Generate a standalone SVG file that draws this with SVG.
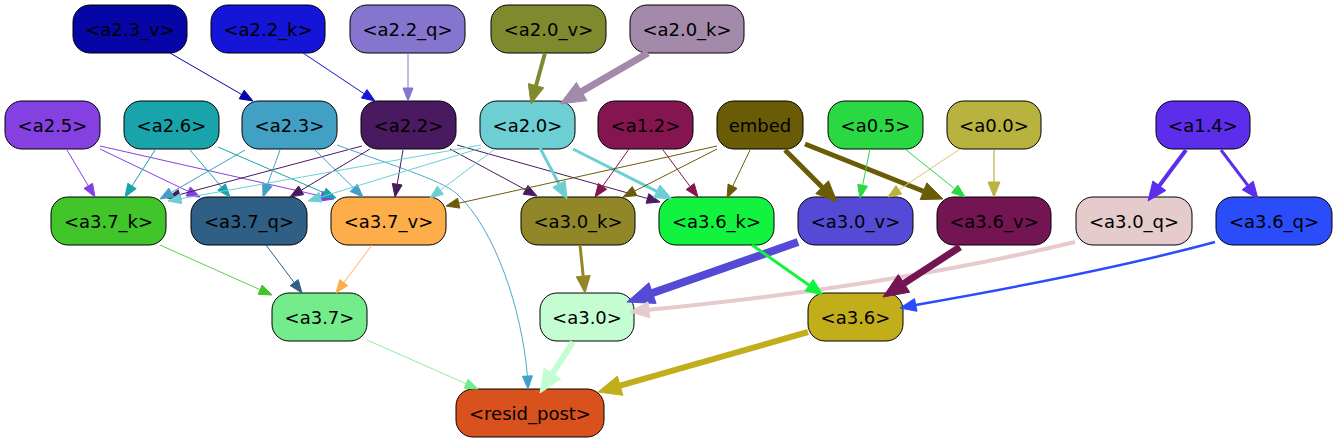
<svg xmlns="http://www.w3.org/2000/svg" width="1337" height="443" viewBox="0 0 1337 443">
<style>
.n rect{stroke:#000;stroke-width:1}
.n text{font-family:"DejaVu Sans","Liberation Sans",sans-serif;font-size:18px;text-anchor:middle;fill:#000}
#edges path{fill:none}
</style>
<rect width="1337" height="443" fill="#fff"/>
<g id="nodes">
<g id="a2.3_v" class="n"><rect x="73" y="5" width="114" height="48" rx="17" fill="#0606a6"/><text x="130" y="35.5">&lt;a2.3_v&gt;</text></g>
<g id="a2.2_k" class="n"><rect x="211" y="5" width="114" height="48" rx="17" fill="#1515d8"/><text x="268" y="35.5">&lt;a2.2_k&gt;</text></g>
<g id="a2.2_q" class="n"><rect x="350" y="5" width="115" height="48" rx="17" fill="#8575cf"/><text x="407.5" y="35.5">&lt;a2.2_q&gt;</text></g>
<g id="a2.0_v" class="n"><rect x="491" y="5" width="115" height="48" rx="17" fill="#7f8a2e"/><text x="548.5" y="35.5">&lt;a2.0_v&gt;</text></g>
<g id="a2.0_k" class="n"><rect x="630" y="5" width="114" height="48" rx="17" fill="#a38aab"/><text x="687" y="35.5">&lt;a2.0_k&gt;</text></g>

<g id="a2.5" class="n"><rect x="5" y="101" width="95" height="48" rx="17" fill="#8540e2"/><text x="52.5" y="131.5">&lt;a2.5&gt;</text></g>
<g id="a2.6" class="n"><rect x="124" y="101" width="95" height="48" rx="17" fill="#19a4ac"/><text x="171.5" y="131.5">&lt;a2.6&gt;</text></g>
<g id="a2.3" class="n"><rect x="242" y="101" width="95" height="48" rx="17" fill="#42a0c4"/><text x="289.5" y="131.5">&lt;a2.3&gt;</text></g>
<g id="a2.2" class="n"><rect x="361" y="101" width="95" height="48" rx="17" fill="#4a1a60"/><text x="408.5" y="131.5">&lt;a2.2&gt;</text></g>
<g id="a2.0" class="n"><rect x="480" y="101" width="95" height="48" rx="17" fill="#6dcfd3"/><text x="527.5" y="131.5">&lt;a2.0&gt;</text></g>
<g id="a1.2" class="n"><rect x="598" y="101" width="95" height="48" rx="17" fill="#841550"/><text x="645.5" y="131.5">&lt;a1.2&gt;</text></g>
<g id="embed" class="n"><rect x="717" y="101" width="86" height="48" rx="17" fill="#6a5c07"/><text x="760" y="131.5">embed</text></g>
<g id="a0.5" class="n"><rect x="828" y="101" width="95" height="48" rx="17" fill="#2ad844"/><text x="875.5" y="131.5">&lt;a0.5&gt;</text></g>
<g id="a0.0" class="n"><rect x="947" y="101" width="94" height="48" rx="17" fill="#b8b23e"/><text x="994" y="131.5">&lt;a0.0&gt;</text></g>
<g id="a1.4" class="n"><rect x="1156" y="101" width="94" height="48" rx="17" fill="#5c2deb"/><text x="1203" y="131.5">&lt;a1.4&gt;</text></g>

<g id="a3.7_k" class="n"><rect x="51" y="197" width="115" height="48" rx="17" fill="#41c52a"/><text x="108.5" y="227.5">&lt;a3.7_k&gt;</text></g>
<g id="a3.7_q" class="n"><rect x="191" y="197" width="116" height="48" rx="17" fill="#2f5f85"/><text x="249" y="227.5">&lt;a3.7_q&gt;</text></g>
<g id="a3.7_v" class="n"><rect x="331" y="197" width="115" height="48" rx="17" fill="#fdae4a"/><text x="388.5" y="227.5">&lt;a3.7_v&gt;</text></g>
<g id="a3.0_k" class="n"><rect x="521" y="197" width="114" height="48" rx="17" fill="#918729"/><text x="578" y="227.5">&lt;a3.0_k&gt;</text></g>
<g id="a3.6_k" class="n"><rect x="659" y="197" width="115" height="48" rx="17" fill="#12f340"/><text x="716.5" y="227.5">&lt;a3.6_k&gt;</text></g>
<g id="a3.0_v" class="n"><rect x="798" y="197" width="115" height="48" rx="17" fill="#554ad6"/><text x="855.5" y="227.5">&lt;a3.0_v&gt;</text></g>
<g id="a3.6_v" class="n"><rect x="937" y="197" width="114" height="48" rx="17" fill="#731453"/><text x="994" y="227.5">&lt;a3.6_v&gt;</text></g>
<g id="a3.0_q" class="n"><rect x="1076" y="197" width="116" height="48" rx="17" fill="#e5cbcc"/><text x="1134" y="227.5">&lt;a3.0_q&gt;</text></g>
<g id="a3.6_q" class="n"><rect x="1216" y="197" width="116" height="48" rx="17" fill="#2a4cf9"/><text x="1274" y="227.5">&lt;a3.6_q&gt;</text></g>

<g id="a3.7" class="n"><rect x="272" y="293" width="95" height="48" rx="17" fill="#75ec8c"/><text x="319.5" y="323.5">&lt;a3.7&gt;</text></g>
<g id="a3.0" class="n"><rect x="540" y="293" width="94" height="48" rx="17" fill="#c5fdd2"/><text x="587" y="323.5">&lt;a3.0&gt;</text></g>
<g id="a3.6" class="n"><rect x="808" y="293" width="95" height="48" rx="17" fill="#c2ae1b"/><text x="855.5" y="323.5">&lt;a3.6&gt;</text></g>

<g id="resid_post" class="n"><rect x="456" y="389" width="148" height="48" rx="17" fill="#d9521d"/><text x="530" y="419.5">&lt;resid_post&gt;</text></g>
</g>

<g id="edges">
<path d="M170,53 L241.7,94.5" stroke="#0606a6"/><polygon points="253,101 239.2,98.8 244.2,90.2" fill="#0606a6" stroke="#0606a6"/>
<path d="M303,53 L364.2,93.8" stroke="#1515d8"/><polygon points="375,101 361.4,98 367,89.6" fill="#1515d8" stroke="#1515d8"/>
<path d="M408,53 L408,88" stroke="#8575cf"/><polygon points="408,101 403,88 413,88" fill="#8575cf" stroke="#8575cf"/>
<path d="M545,53 L536,85.7" stroke="#7f8a2e" stroke-width="4"/><polygon points="531,104 528.3,83.6 543.7,87.8" fill="#7f8a2e" stroke="#7f8a2e"/>
<path d="M648,53 L581.6,91.5" stroke="#a38aab" stroke-width="7"/><polygon points="560,104 576.4,82.4 586.9,100.6" fill="#a38aab" stroke="#a38aab"/>

<path d="M67,150 L88.3,185.8" stroke="#8540e2"/><polygon points="95,197 84,188.4 92.6,183.3" fill="#8540e2" stroke="#8540e2"/>
<path d="M100,149 L188.3,191.4" stroke="#8540e2"/><polygon points="200,197 186.1,195.9 190.4,186.9" fill="#8540e2" stroke="#8540e2"/>
<path d="M100,146 L321.3,196.1" stroke="#8540e2"/><polygon points="334,199 320.2,201 322.4,191.3" fill="#8540e2" stroke="#8540e2"/>

<path d="M155,150 L132,186" stroke="#19a4ac"/><polygon points="125,197 127.8,183.3 136.2,188.7" fill="#19a4ac" stroke="#19a4ac"/>
<path d="M190,150 L221.6,187.1" stroke="#19a4ac"/><polygon points="230,197 217.8,190.3 225.4,183.9" fill="#19a4ac" stroke="#19a4ac"/>
<path d="M218,147 L324.1,192.8" stroke="#19a4ac"/><polygon points="336,198 322.1,197.4 326.1,188.2" fill="#19a4ac" stroke="#19a4ac"/>

<path d="M362,146 L179.6,194.6" stroke="#4a1a60"/><polygon points="167,198 178.3,189.8 180.9,199.5" fill="#4a1a60" stroke="#4a1a60"/>
<path d="M245,150 L171.3,192.5" stroke="#42a0c4"/><polygon points="160,199 168.8,188.2 173.8,196.8" fill="#42a0c4" stroke="#42a0c4"/>
<path d="M280,150 L267.4,184.8" stroke="#42a0c4"/><polygon points="263,197 262.7,183.1 272.1,186.5" fill="#42a0c4" stroke="#42a0c4"/>
<path d="M315,150 L353.7,187.9" stroke="#42a0c4"/><polygon points="363,197 350.2,191.5 357.2,184.3" fill="#42a0c4" stroke="#42a0c4"/>
<path d="M337,145 C400,168 440,180 456,193 C495,228 522,310 527.4,376" stroke="#4ea6cc"/><polygon points="528,389 522.4,376.3 532.4,375.8" fill="#42a0c4" stroke="#42a0c4"/>

<path d="M370,149 L301.1,190.3" stroke="#4a1a60"/><polygon points="290,197 298.6,186 303.7,194.6" fill="#4a1a60" stroke="#4a1a60"/>
<path d="M403,150 L397.2,184.2" stroke="#4a1a60"/><polygon points="395,197 392.3,183.4 402.1,185" fill="#4a1a60" stroke="#4a1a60"/>
<path d="M450,149 L525.6,189.8" stroke="#4a1a60"/><polygon points="537,196 523.2,194.2 528,185.4" fill="#4a1a60" stroke="#4a1a60"/>
<path d="M457,145 L647.5,198.5" stroke="#4a1a60"/><polygon points="660,202 646.1,203.3 648.8,193.7" fill="#4a1a60" stroke="#4a1a60"/>

<path d="M481,145 L180.8,198.7" stroke="#6dcfd3"/><polygon points="168,201 179.9,193.8 181.7,203.6" fill="#6dcfd3" stroke="#6dcfd3"/>
<path d="M481,148 L320.4,197.2" stroke="#6dcfd3"/><polygon points="308,201 319,192.4 321.9,202" fill="#6dcfd3" stroke="#6dcfd3"/>
<path d="M495,149 L440.4,190.2" stroke="#6dcfd3"/><polygon points="430,198 437.4,186.2 443.4,194.2" fill="#6dcfd3" stroke="#6dcfd3"/>
<path d="M540,148 L559,184" stroke="#6dcfd3" stroke-width="3"/><polygon points="567,199 552.8,187.3 565.2,180.7" fill="#6dcfd3" stroke="#6dcfd3"/>
<path d="M573,149 L656.8,191.3" stroke="#6dcfd3" stroke-width="3"/><polygon points="672,199 653.7,197.6 660,185.1" fill="#6dcfd3" stroke="#6dcfd3"/>

<path d="M629,149 L602.5,186.4" stroke="#841550"/><polygon points="595,197 598.4,183.5 606.6,189.3" fill="#841550" stroke="#841550"/>
<path d="M663,150 L690.2,186.6" stroke="#841550"/><polygon points="698,197 686.2,189.6 694.2,183.6" fill="#841550" stroke="#841550"/>

<path d="M717,146 L458.7,203.2" stroke="#6a5c07"/><polygon points="446,206 457.6,198.3 459.8,208.1" fill="#6a5c07" stroke="#6a5c07"/>
<path d="M717,149 L634.6,191.1" stroke="#6a5c07"/><polygon points="623,197 632.3,186.6 636.9,195.6" fill="#6a5c07" stroke="#6a5c07"/>
<path d="M750,150 L732.6,186.3" stroke="#6a5c07"/><polygon points="727,198 728.1,184.1 737.1,188.4" fill="#6a5c07" stroke="#6a5c07"/>
<path d="M785,150 L822.2,187.2" stroke="#6a5c07" stroke-width="5"/><polygon points="837,202 815.8,193.5 828.5,180.8" fill="#6a5c07" stroke="#6a5c07"/>
<path d="M805,144 L923.5,191.2" stroke="#6a5c07" stroke-width="5"/><polygon points="943,199 920.2,199.6 926.8,182.9" fill="#6a5c07" stroke="#6a5c07"/>

<path d="M870,149 L862.6,185.3" stroke="#2ad844"/><polygon points="860,198 857.7,184.3 867.5,186.3" fill="#2ad844" stroke="#2ad844"/>
<path d="M905,149 L954.8,188.9" stroke="#2ad844"/><polygon points="965,197 951.7,192.8 957.9,185" fill="#2ad844" stroke="#2ad844"/>
<path d="M960,149 L898.8,189.8" stroke="#cfc87a"/><polygon points="888,197 896,185.6 901.6,194" fill="#b8b23e" stroke="#b8b23e"/>
<path d="M994,150 L994,182" stroke="#d6d08e" stroke-width="2"/><polygon points="994,197 988,182 1000,182" fill="#bab33f" stroke="#bab33f"/>

<path d="M1186,150 L1159.3,185.8" stroke="#5c2deb" stroke-width="4"/><polygon points="1148,201 1152.9,181 1165.8,190.5" fill="#5c2deb" stroke="#5c2deb"/>
<path d="M1221,150 L1247.8,185.4" stroke="#5c2deb" stroke-width="3"/><polygon points="1258,199 1242.2,189.7 1253.3,181.2" fill="#5c2deb" stroke="#5c2deb"/>

<path d="M160,245 L260.1,289.7" stroke="#5ccc48"/><polygon points="272,295 258.1,294.3 262.2,285.1" fill="#41c52a" stroke="#41c52a"/>
<path d="M266,245 L294.2,282.6" stroke="#2f5f85"/><polygon points="302,293 290.2,285.6 298.2,279.6" fill="#2f5f85" stroke="#2f5f85"/>
<path d="M372,245 L343.8,282.6" stroke="#fdae4a"/><polygon points="336,293 339.8,279.6 347.8,285.6" fill="#fdae4a" stroke="#fdae4a"/>
<path d="M367,340 L466.1,383.7" stroke="#8aeea0"/><polygon points="478,389 464.1,388.3 468.1,379.2" fill="#75ec8c" stroke="#75ec8c"/>

<path d="M580,245 L583.2,276.1" stroke="#918729" stroke-width="3"/><polygon points="585,293 576.3,276.8 590.2,275.4" fill="#918729" stroke="#918729"/>
<path d="M798,242 L652.5,293.1" stroke="#554ad6" stroke-width="8"/><polygon points="627,302 648.9,282.7 656.1,303.4" fill="#554ad6" stroke="#554ad6"/>
<path d="M1075,242 C950,272 800,295 648.9,309.8" stroke="#e5cbcc" stroke-width="4"/><polygon points="630,312 647.9,301.8 649.8,317.7" fill="#e5cbcc" stroke="#e5cbcc"/>
<path d="M752,245 L809.1,285.2" stroke="#12f340" stroke-width="3"/><polygon points="823,295 805.1,290.9 813.1,279.5" fill="#12f340" stroke="#12f340"/>
<path d="M960,247 L904,283.4" stroke="#731453" stroke-width="7"/><polygon points="883,297 898.3,274.6 909.7,292.2" fill="#731453" stroke="#731453"/>
<path d="M1215,242 C1130,265 1030,285 915.7,304.9" stroke="#2a4cf9" stroke-width="2.5"/><polygon points="900,308 914.5,298.6 917,311.3" fill="#2a4cf9" stroke="#2a4cf9"/>

<path d="M573,342 L552.5,373.7" stroke="#c5fdd2" stroke-width="6"/><polygon points="540,393 544.1,368.2 560.9,379.1" fill="#c5fdd2" stroke="#c5fdd2"/>
<path d="M808,332 L620.1,385.7" stroke="#c2ae1b" stroke-width="6"/><polygon points="598,392 617.4,376.1 622.9,395.3" fill="#c2ae1b" stroke="#c2ae1b"/>
</g>
</svg>
